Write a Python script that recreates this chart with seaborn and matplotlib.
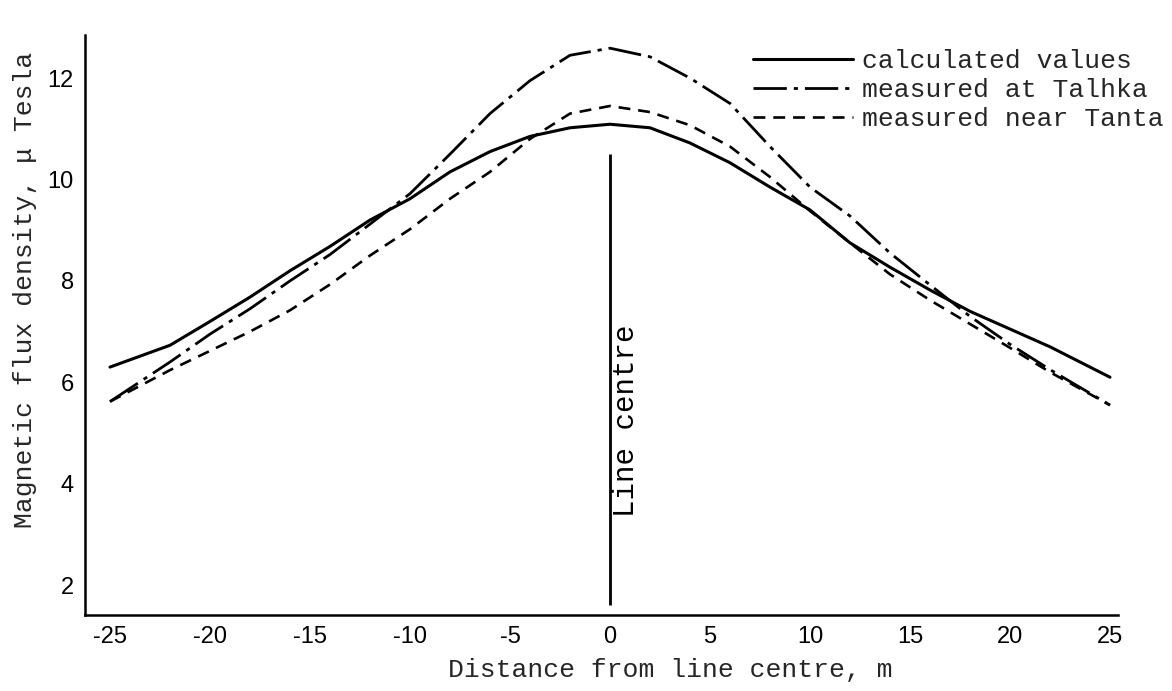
import numpy as np
import pandas as pd
import matplotlib
matplotlib.use("Agg")
import matplotlib.pyplot as plt
import seaborn as sns

sns.set_style("white")
plt.rcParams["axes.unicode_minus"] = False

# distance from line centre, m
dist = [-25, -22, -20, -18, -16, -14, -12, -10, -8, -6, -4, -2, 0,
        2, 4, 6, 8, 10, 12, 14, 16, 18, 20, 22, 25]

# magnetic flux density, micro Tesla
calculated = [6.30, 6.73, 7.20, 7.68, 8.20, 8.68, 9.20, 9.62, 10.15, 10.55, 10.85, 11.02, 11.09,
              11.02, 10.72, 10.33, 9.85, 9.40, 8.75, 8.27, 7.82, 7.40, 7.05, 6.70, 6.10]
talhka = [5.62, 6.40, 6.95, 7.45, 8.00, 8.52, 9.12, 9.72, 10.50, 11.30, 11.95, 12.45, 12.59,
          12.42, 12.00, 11.50, 10.65, 9.85, 9.28, 8.55, 7.92, 7.30, 6.75, 6.25, 5.55]
tanta = [5.62, 6.24, 6.62, 7.00, 7.42, 7.93, 8.50, 9.02, 9.62, 10.15, 10.80, 11.30, 11.45,
         11.33, 11.07, 10.65, 10.05, 9.38, 8.75, 8.13, 7.62, 7.15, 6.68, 6.20, 5.55]

labels = ["calculated values", "measured at Talhka", "measured near Tanta"]
xticks = [-25, -20, -15, -10, -5, 0, 5, 10, 15, 20, 25]
yticks = [2, 4, 6, 8, 10, 12]

df = pd.DataFrame({"dist": dist, "calc": calculated, "talhka": talhka, "tanta": tanta})

W, H = 1172, 691
fig = plt.figure(figsize=(W / 100, H / 100), dpi=100)
ax = fig.add_axes([85 / W, 1 - 615 / H, (1118 - 85) / W, (615 - 35) / H])

mono = "Liberation Mono"
fs = 19

sns.lineplot(data=df, x="dist", y="calc", ax=ax, color="black", lw=2.2,
             label=labels[0])
sns.lineplot(data=df, x="dist", y="talhka", ax=ax, color="black", lw=2.0,
             linestyle=(0, (12, 2.5, 1.5, 2.5)), label=labels[1])
sns.lineplot(data=df, x="dist", y="tanta", ax=ax, color="black", lw=1.9,
             linestyle=(0, (4.5, 3)), label=labels[2])

# line centre marker
ax.vlines(0, 1.6, 10.5, color="black", lw=2)
ax.text(0.1, 5.25, "Line centre", rotation=90, ha="left", va="center",
        family=mono, fontsize=21, color="black")

ax.set_xlim(-26.25, 25.4)
ax.set_ylim(1.41, 12.85)
ax.set_xticks(xticks)
ax.set_yticks(yticks)
ax.set_xlabel("")
ax.set_ylabel("")
for s in ["top", "right"]:
    ax.spines[s].set_visible(False)
for s in ["left", "bottom"]:
    ax.spines[s].set_linewidth(1.8)
    ax.spines[s].set_color("black")
ax.tick_params(direction="in", length=6, width=1.8, colors="black",
               labelsize=17, pad=8)
for t in ax.get_xticklabels() + ax.get_yticklabels():
    t.set_family("Liberation Sans")

fig.text(670 / W, 1 - 670 / H, "Distance from line centre, m", ha="center",
         va="center", family=mono, fontsize=fs)
fig.text(25 / W, 1 - 290 / H, "Magnetic flux density, \u03bc Tesla", rotation=90,
         ha="center", va="center", family=mono, fontsize=fs)

leg = ax.legend(loc="upper left", bbox_to_anchor=(740 / W, 1 - 36 / H),
                bbox_transform=fig.transFigure, frameon=False, prop={"family": mono, "size": fs},
                handlelength=3.8, handletextpad=0.34, labelspacing=0.19, borderpad=0)
for line in leg.get_lines():
    line.set_color("black")

fig.savefig("out.png", dpi=100)
